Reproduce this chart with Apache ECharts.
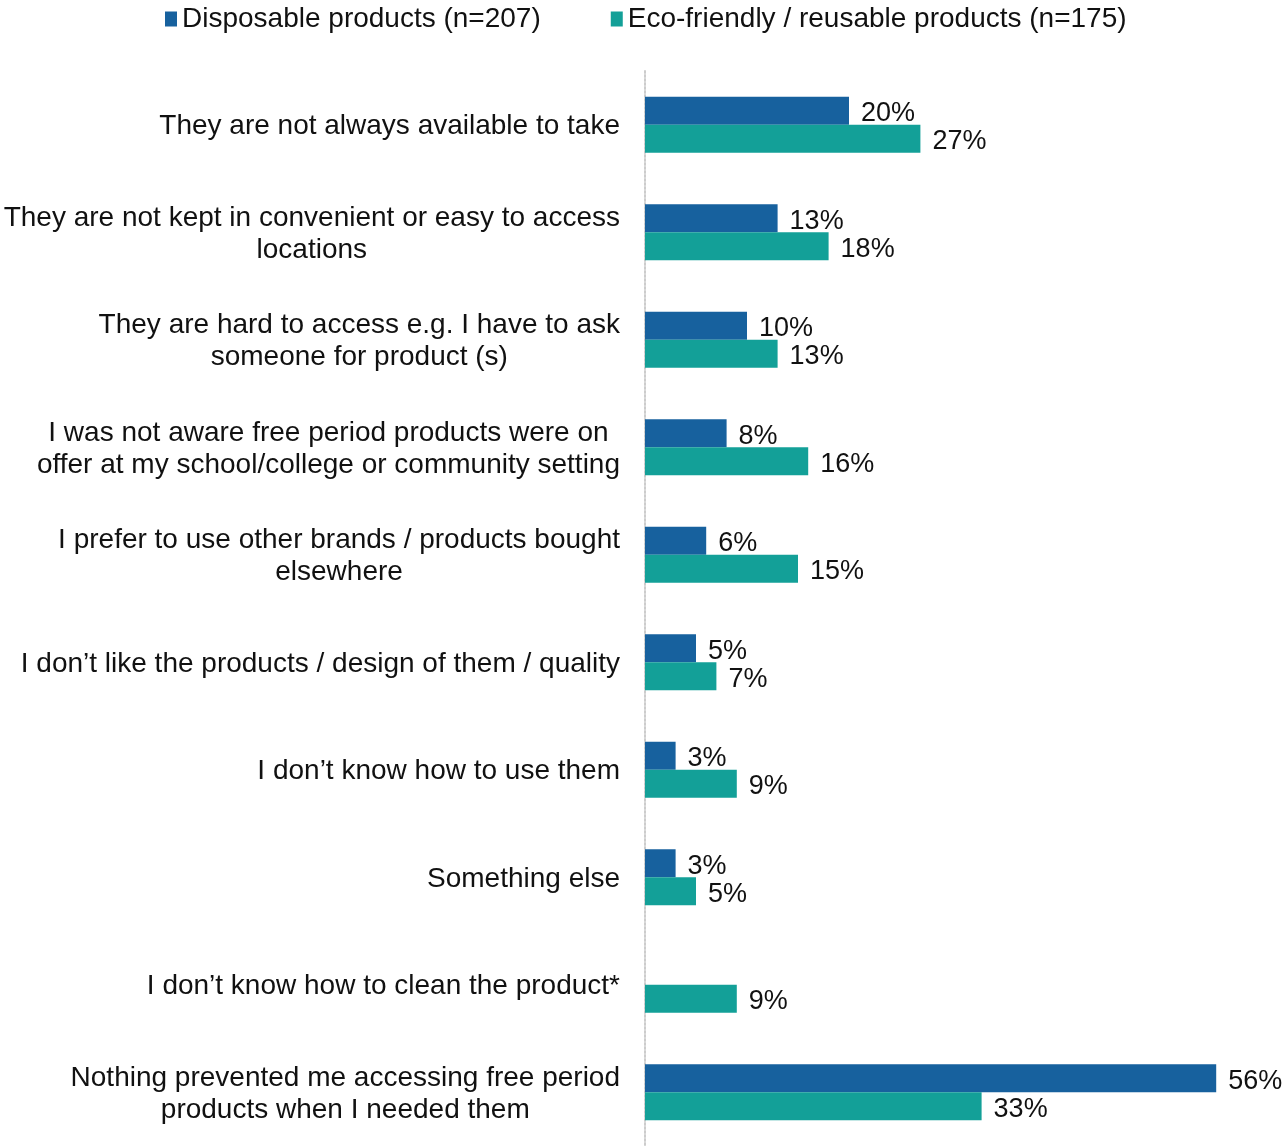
<!DOCTYPE html>
<html>
<head>
<meta charset="utf-8">
<script src="https://cdn.jsdelivr.net/npm/echarts@6/dist/echarts.min.js"></script>
<style>
html, body { margin: 0; padding: 0; background: #fff; }
#chart { width: 1283px; height: 1146px; }
</style>
</head>
<body>
<div id="chart"></div>
<script>
var categories = [
    'They are not always available to take',
    'They are not kept in convenient or easy to access\nlocations',
    'They are hard to access e.g. I have to ask\nsomeone for product (s)',
    'I was not aware free period products were on\noffer at my school/college or community setting',
    'I prefer to use other brands / products bought\nelsewhere',
    'I don\u2019t like the products / design of them / quality',
    'I don\u2019t know how to use them',
    'Something else',
    'I don\u2019t know how to clean the product*',
    'Nothing prevented me accessing free period\nproducts when I needed them'
];
var disposable = [20, 13, 10, 8, 6, 5, 3, 3, null, 56];
var ecoFriendly = [27, 18, 13, 16, 15, 7, 9, 5, 9, 33];
var seriesNames = ['Disposable products (n=207)', 'Eco-friendly / reusable products (n=175)'];

var dom = document.getElementById('chart');
var myChart = echarts.init(dom);
var font = 'Liberation Sans, Arial, sans-serif';

var valueLabel = {
    show: true,
    position: 'right',
    distance: 12,
    offset: [0, 3],
    formatter: '{c}%',
    color: '#111',
    fontSize: 27,
    fontFamily: font
};

var option = {
    animation: false,
    textStyle: { fontFamily: font },
    legend: {
        top: 0,
        left: 160,
        itemWidth: 12,
        itemHeight: 15,
        itemGap: 70,
        icon: 'rect',
        textStyle: { fontSize: 28, color: '#111', fontFamily: font },
        data: seriesNames
    },
    grid: {
        left: 645,
        top: 71,
        width: 612,
        height: 1077,
        containLabel: false
    },
    xAxis: {
        type: 'value',
        min: 0,
        max: 60,
        show: false
    },
    yAxis: {
        type: 'category',
        inverse: true,
        data: categories,
        axisTick: { show: false },
        axisLine: { show: true, lineStyle: { color: '#cccccc', width: 2, type: 'dotted' } },
        axisLabel: {
            margin: 25,
            fontSize: 28,
            lineHeight: 32,
            padding: [4, 0, 0, 0],
            color: '#111',
            fontFamily: font,
            formatter: function (v) {
                return v.split('\n').map(function (l) { return '{c|' + l + '}'; }).join('\n');
            },
            rich: {
                c: { align: 'center', fontSize: 28, lineHeight: 32, color: '#111', fontFamily: font }
            }
        }
    },
    series: [
        {
            name: seriesNames[0],
            type: 'bar',
            data: disposable,
            barWidth: 28,
            barGap: '0%',
            itemStyle: { color: '#17619e' },
            label: valueLabel
        },
        {
            name: seriesNames[1],
            type: 'bar',
            data: ecoFriendly,
            barWidth: 28,
            barGap: '0%',
            itemStyle: { color: '#13a098' },
            label: valueLabel
        }
    ]
};

if (option && typeof option === 'object') {
    myChart.setOption(option, true);
}
</script>
</body>
</html>
